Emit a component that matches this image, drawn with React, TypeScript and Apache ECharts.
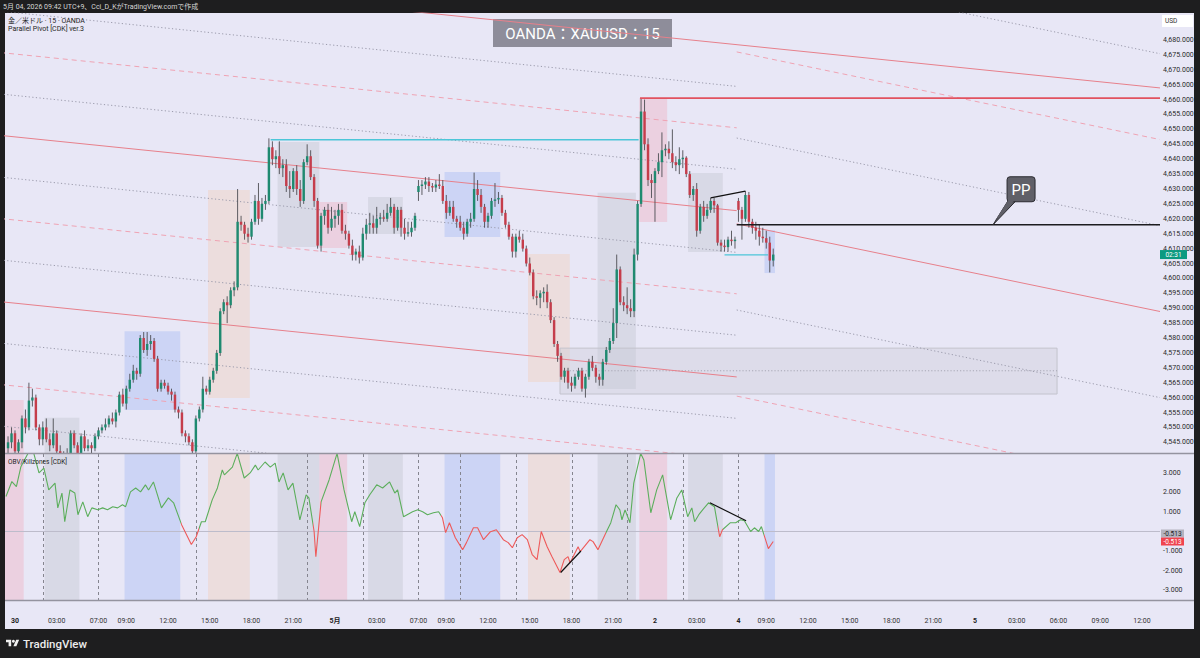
import React, { useEffect, useRef } from "react";
import * as echarts from "echarts";

const FONT = 'Roboto, "Noto Sans CJK JP", "Noto Sans", sans-serif';
const GREEN = "#1f8a70";
const RED = "#c53d4b";
const WICK = "#4d4d52";
const OBV_GREEN = "#5cae5c";
const OBV_RED = "#ee5a5a";

// ---------------- data ----------------
// 15-minute bars, index 0 = 30 Apr 00:00 JST, [open, close, low, high]
const FIRST_BAR = -2;
const candleOHLC: number[][] = [
  [4543, 4545, 4541, 4547], [4545, 4548, 4543, 4550], [4548, 4542, 4540, 4549], [4542, 4545, 4541, 4546],
  [4545, 4553, 4543, 4554], [4553, 4550, 4548, 4556], [4550, 4559, 4549, 4565], [4559, 4560, 4557, 4563],
  [4560, 4550, 4549, 4561], [4550, 4546, 4544, 4551], [4546, 4550, 4544, 4552], [4550, 4546, 4545, 4553],
  [4546, 4544, 4542, 4548], [4544, 4548, 4543, 4553], [4548, 4542, 4541, 4549], [4542, 4539, 4537, 4544],
  [4539, 4540, 4536, 4542], [4540, 4541, 4538, 4543], [4541, 4548, 4540, 4549], [4548, 4544, 4543, 4549],
  [4544, 4541, 4539, 4545], [4541, 4547, 4540, 4548], [4547, 4543, 4542, 4549], [4543, 4544, 4542, 4546],
  [4544, 4543, 4541, 4545], [4543, 4547, 4542, 4548], [4547, 4549, 4546, 4550], [4549, 4550, 4548, 4551],
  [4550, 4551, 4549, 4553], [4551, 4553, 4550, 4554], [4553, 4552, 4551, 4555], [4552, 4555, 4550, 4556],
  [4555, 4561, 4554, 4562], [4561, 4558, 4557, 4563], [4558, 4563, 4556, 4564], [4563, 4566, 4562, 4568],
  [4566, 4569, 4565, 4571], [4569, 4568, 4566, 4570], [4568, 4580, 4567, 4581], [4580, 4576, 4575, 4582],
  [4576, 4578, 4574, 4582], [4578, 4579, 4576, 4581], [4579, 4573, 4572, 4580], [4573, 4563, 4562, 4574],
  [4563, 4565, 4562, 4566], [4565, 4564, 4563, 4566], [4564, 4562, 4561, 4565], [4562, 4561, 4559, 4563],
  [4561, 4556, 4555, 4562], [4556, 4555, 4553, 4557], [4555, 4548, 4547, 4556], [4548, 4547, 4545, 4549],
  [4547, 4545, 4544, 4548], [4545, 4542, 4537, 4546], [4542, 4553, 4541, 4554], [4553, 4556, 4552, 4557],
  [4556, 4563, 4555, 4567], [4563, 4562, 4561, 4564], [4562, 4566, 4561, 4567], [4566, 4569, 4565, 4570],
  [4569, 4575, 4568, 4576], [4575, 4589, 4574, 4590], [4589, 4592, 4588, 4593], [4592, 4591, 4585, 4594],
  [4591, 4596, 4590, 4597], [4596, 4597, 4594, 4599], [4597, 4619, 4596, 4630], [4619, 4618, 4616, 4621],
  [4618, 4615, 4613, 4619], [4615, 4614, 4612, 4617], [4614, 4619, 4613, 4620], [4619, 4626, 4618, 4628],
  [4626, 4620, 4618, 4632], [4620, 4625, 4619, 4627], [4625, 4626, 4623, 4628], [4626, 4644, 4625, 4647],
  [4644, 4640, 4638, 4646], [4640, 4641, 4637, 4643], [4641, 4637, 4635, 4646], [4637, 4638, 4634, 4640],
  [4638, 4631, 4629, 4640], [4631, 4630, 4627, 4636], [4630, 4636, 4629, 4637], [4636, 4630, 4628, 4638],
  [4630, 4626, 4624, 4633], [4626, 4639, 4625, 4640], [4639, 4641, 4638, 4645], [4641, 4634, 4633, 4643],
  [4634, 4626, 4624, 4635], [4626, 4611, 4610, 4627], [4611, 4621, 4609, 4622], [4621, 4623, 4618, 4624],
  [4623, 4617, 4615, 4625], [4617, 4620, 4616, 4624], [4620, 4621, 4617, 4623], [4621, 4623, 4618, 4625],
  [4623, 4616, 4615, 4625], [4616, 4615, 4613, 4618], [4615, 4611, 4610, 4616], [4611, 4608, 4606, 4613],
  [4608, 4609, 4606, 4610], [4609, 4607, 4605, 4611], [4607, 4615, 4606, 4617], [4615, 4618, 4613, 4620],
  [4618, 4618.5, 4615, 4622], [4618.5, 4617, 4615, 4621], [4617, 4620, 4615, 4624], [4620, 4620.5, 4618, 4622],
  [4620.5, 4620, 4619, 4623], [4620, 4622, 4619, 4625], [4622, 4624, 4621, 4627], [4624, 4617, 4615, 4625],
  [4617, 4623, 4616, 4624], [4623, 4617, 4614, 4624], [4617, 4615, 4613, 4620], [4615, 4615.5, 4614, 4619],
  [4615.5, 4617, 4614, 4619], [4617, 4621, 4616, 4622], [4629, 4631, 4626, 4633], [4631, 4631.5, 4628, 4633],
  [4631.5, 4632.5, 4630, 4634], [4632.5, 4631, 4629, 4634], [4631, 4630.5, 4629, 4632], [4630.5, 4631.5, 4629, 4633],
  [4631.5, 4631, 4630, 4635], [4631, 4626, 4625, 4633], [4626, 4622, 4620, 4628], [4622, 4624, 4621, 4626],
  [4624, 4620, 4619, 4626], [4620, 4619, 4617, 4621], [4619, 4617, 4616, 4621], [4617, 4615, 4613, 4619],
  [4615, 4619, 4614, 4620], [4619, 4620, 4617, 4622], [4620, 4630, 4619, 4635.5], [4630, 4628, 4626, 4633],
  [4628, 4624, 4622, 4630], [4624, 4619, 4617, 4625], [4619, 4621, 4617, 4622], [4621, 4626, 4620, 4627],
  [4626, 4626.5, 4624, 4632], [4626.5, 4627, 4625, 4629], [4627, 4622, 4621, 4628], [4622, 4618, 4617, 4623],
  [4618, 4614, 4613, 4619], [4614, 4609, 4607, 4615], [4609, 4614, 4607, 4615], [4614, 4613, 4612, 4616],
  [4613, 4610, 4609, 4615], [4610, 4605, 4604, 4611], [4605, 4602, 4601, 4607], [4602, 4594, 4593, 4603],
  [4594, 4593.5, 4591, 4596], [4593.5, 4595, 4590, 4596], [4595, 4595.5, 4592, 4597], [4595.5, 4592, 4590, 4598],
  [4592, 4586, 4585, 4593], [4586, 4578, 4577, 4587], [4578, 4574, 4572, 4579], [4574, 4567, 4566, 4575],
  [4567, 4569, 4565, 4570], [4569, 4565, 4563, 4570], [4565, 4564, 4562, 4567], [4564, 4567, 4563, 4568],
  [4567, 4569, 4566, 4570], [4569, 4563, 4562, 4570], [4563, 4567, 4560, 4568], [4567, 4572, 4566, 4573],
  [4572, 4570, 4569, 4574], [4570, 4567, 4565, 4571], [4567, 4566, 4564, 4568], [4566, 4572, 4564, 4573],
  [4572, 4576, 4571, 4577], [4576, 4579, 4575, 4580], [4579, 4585, 4578, 4590], [4585, 4603, 4580, 4608],
  [4603, 4592, 4591, 4604], [4592, 4591, 4589, 4594], [4591, 4590, 4588, 4597], [4590, 4589, 4587, 4593],
  [4589, 4608, 4587, 4610], [4608, 4625, 4606, 4626], [4625, 4656, 4624, 4660.5], [4656, 4645, 4643, 4660],
  [4645, 4633, 4631, 4647], [4633, 4632, 4627, 4635], [4632, 4636, 4619, 4637], [4636, 4639, 4635, 4642],
  [4639, 4643, 4634, 4649], [4643, 4643.5, 4641, 4645], [4643.5, 4642, 4640, 4646], [4642, 4639, 4637, 4650],
  [4639, 4638, 4636, 4641], [4638, 4640, 4635, 4644], [4640, 4640.5, 4637, 4643], [4640.5, 4635, 4634, 4641],
  [4635, 4628, 4627, 4636], [4628, 4630, 4626, 4631], [4630, 4616, 4614, 4632], [4616, 4624, 4615, 4625],
  [4624, 4621, 4619, 4626], [4621, 4623, 4620, 4625], [4623, 4626, 4622, 4627], [4626, 4624.5, 4622, 4627],
  [4624.5, 4612, 4611, 4625], [4612, 4611, 4609, 4613], [4611, 4610.5, 4609, 4613], [4610.5, 4613, 4609, 4614],
  [4613, 4612.5, 4611, 4616], [4612.5, 4613, 4610, 4614], [4626, 4623, 4619, 4627], [4623, 4620, 4613, 4624],
  [4620, 4628, 4619, 4629.3], [4628, 4619, 4617, 4629], [4619, 4617, 4615, 4620], [4617, 4616, 4613, 4619],
  [4616, 4614, 4611, 4618], [4614, 4613.5, 4612, 4617], [4613.5, 4612, 4610, 4616], [4612, 4606, 4602, 4614],
  [4606, 4608, 4604, 4610],
];

const timeTickIdx = [0, 12, 24, 32, 44, 56, 68, 80, 92, 104, 116, 124, 136, 148, 160, 172, 184, 196, 208, 216, 228, 240, 252, 264, 276, 288, 300, 312, 324];
const timeTickText = ["30", "03:00", "07:00", "09:00", "12:00", "15:00", "18:00", "21:00", "5月", "03:00", "07:00", "09:00", "12:00", "15:00", "18:00", "21:00", "2", "03:00", "4", "09:00", "12:00", "15:00", "18:00", "21:00", "5", "03:00", "06:00", "09:00", "12:00"];
const dayLabels = ["30", "5月", "2", "4", "5"];
const priceTicks = [4545, 4550, 4555, 4560, 4565, 4570, 4575, 4580, 4585, 4590, 4595, 4600, 4605, 4610, 4615, 4620, 4625, 4630, 4635, 4640, 4645, 4650, 4655, 4660, 4665, 4670, 4675, 4680];
const obvTicks = [-3, -2, -1, 1, 2, 3];

// killzone boxes: bar range and price range
const zoneStart = [-3, 9, 32, 56, 76, 88, 102, 124, 148, 168, 180, 194, 216];
const zoneEnd = [2, 18, 47, 67, 87, 95, 111, 139, 159, 178, 187, 203, 218];
const zoneHigh = [4559.2, 4553.2, 4582.3, 4629.7, 4645.8, 4625.6, 4627.3, 4635.7, 4608.2, 4628.7, 4660.5, 4635.4, 4616.2];
const zoneLow = [4530, 4530, 4555.8, 4559.9, 4610.5, 4610.2, 4614.9, 4613.9, 4565.2, 4562.9, 4618.9, 4608.9, 4601.8];
const zoneKind = ["pink", "gray", "blue", "beige", "gray", "pink", "gray", "blue", "beige", "gray", "pink", "gray", "blue"];
const sessionLines = [8, 24, 52, 84, 100, 116, 128, 144, 160, 176, 192, 208];

// parallel pivot levels
const oldPivotStart = -4.3;
const oldPivotEnd = 207.5;
const oldPivotSlope = -0.1193;
const oldLevels = [4703.7, 4689.7, 4675.8, 4661.9, 4648.0, 4634.0, 4620.1, 4606.2, 4592.2, 4578.3, 4564.4, 4550.5];
const oldStyles = ["solid", "dotted", "dashed", "dotted", "solid", "dotted", "dashed", "dotted", "solid", "dotted", "dashed", "dotted"];
const newPivotStart = 207.5;
const newPivotSlope = -0.2416;
const newLevels = [4704.8, 4676.0, 4647.1, 4618.3, 4589.4, 4560.5];
const newStyles = ["dotted", "dashed", "dotted", "solid", "dotted", "dashed"];

const ppValue = 4618;
const ppStart = 207.5;
const ppLabelIdx = 281.2;
const prevHigh = 4646.5;
const prevHighIdx = [73.5, 179.3];
const dayHigh = 4660.5;
const dayHighStart = 179.7;
const sessionLow = 4607.9;
const sessionLowIdx = [204, 216.5];
const rangeBoxIdx = [156.7, 299.6];
const rangeBoxPrice = [4561.2, 4576.6, 4569.0];
const priceTrendIdx = [200, 210];
const priceTrendVal = [4627, 4629.3];

// OBV indicator
const obvPts: number[][] = [
  [-2.6, 1.79], [-0.9, 2.56], [0.4, 2.3], [1.7, 3.32], [4.0, 4.09], [5.4, 4.0], [6.9, 3.0], [8.3, 3.25], [9.7, 2.13],
  [11.5, 2.48], [12.3, 1.21], [13.5, 1.97], [14.3, 0.5], [15.8, 2.13], [17.2, 1.97], [18.1, 0.86], [19.5, 1.52],
  [20.9, 0.76], [22.1, 1.21], [23.8, 1.11], [25.2, 1.21], [26.6, 1.11], [28.1, 1.27], [29.5, 1.21], [30.9, 1.37],
  [31.8, 1.27], [33.2, 2.03], [34.7, 2.23], [36.1, 2.03], [37.5, 2.39], [38.4, 2.13], [39.8, 2.54], [42.1, 1.21],
  [44.1, 1.72], [45.6, 1.47], [47.9, 0.35], [50.7, -0.67], [52.1, -0.27], [53.6, 0.5], [54.7, 0.5], [56.7, 1.62],
  [58.2, 2.23], [59.6, 3.15], [60.2, 2.9], [62.5, 3.3], [63.9, 4.0], [65.9, 2.74], [67.6, 3.0], [69.1, 3.4],
  [69.9, 3.15], [71.9, 3.56], [73.4, 3.3], [74.8, 3.5], [75.9, 2.54], [77.1, 3.0], [78.5, 2.13], [79.9, 2.48],
  [81.9, 0.6], [83.7, 1.88], [84.5, 1.72], [86.0, 0.0], [86.5, -1.29], [88.0, 1.52], [90.3, 2.64], [92.6, 4.0],
  [94.6, 2.13], [96.8, 0.5], [97.7, 1.01], [99.1, 0.25], [100.6, 1.47], [102.0, 1.88], [104.0, 2.39], [105.7, 2.23],
  [107.7, 2.54], [109.2, 1.97], [110.0, 2.13], [111.7, 0.76], [114.3, 1.01], [115.8, 1.11], [117.2, 1.01],
  [118.6, 0.86], [120.3, 0.96], [121.8, 1.01], [122.9, 0.7], [123.8, -0.06], [124.9, 0.45], [126.6, -0.32],
  [128.7, -0.93], [129.8, -0.57], [131.8, 0.19], [133.0, 0.19], [134.7, -0.42], [136.7, -0.01], [138.4, 0.09],
  [140.4, -0.42], [141.8, -0.57], [143.0, -0.83], [144.4, -0.32], [145.8, -0.16], [147.3, -0.42], [148.7, -1.18],
  [150.1, -1.44], [151.3, 0.0], [153.0, -0.78], [154.4, -1.29], [156.7, -2.1], [157.9, -1.44], [159.0, -1.29],
  [159.6, -1.6], [161.9, -0.78], [162.5, -1.03], [165.3, -0.42], [166.2, -0.52], [167.6, -0.93], [169.9, -0.06],
  [171.3, 0.45], [172.8, 1.37], [173.9, 1.11], [174.5, 0.6], [175.4, 1.11], [176.8, 0.45], [177.9, 2.48],
  [179.9, 4.0], [180.8, 3.66], [182.8, 0.96], [184.5, 2.13], [186.2, 2.9], [188.5, 0.6], [190.3, 1.72],
  [191.7, 2.13], [193.4, 0.76], [194.6, 1.21], [195.4, 0.5], [196.6, 0.86], [197.7, 1.11], [199.4, 1.47],
  [201.1, 1.27], [202.6, -0.27], [203.4, 0.09], [205.7, 0.45], [207.2, 0.45], [208.6, 0.6], [209.7, 0.55],
  [211.5, 0.0], [212.6, 0.19], [213.8, 0.0], [214.6, 0.25], [216.6, -0.88], [218.0, -0.513],
];
const obvRedFrom = [47.6, 85.8, 122.6, 202.0, 215.4];
const obvRedTo = [52.8, 88.0, 169.9, 203.6, 219.0];
const obvTrend1Idx = [156.9, 162.7];
const obvTrend1Val = [-2.1, -1.0];
const obvTrend2Idx = [199.8, 210.2];
const obvTrend2Val = [1.47, 0.55];
const lastObv = -0.513;
const countdownText = "02:31";

// ---------------- layout ----------------
const X_MIN = -2.875;
const X_MAX = 329.2;
const P_MIN = 4541.41;
const P_MAX = 4689.06;
const O_MIN = -3.51;
const O_MAX = 3.97;

const zoneFill: Record<string, string> = {
  pink: "rgba(242,160,178,0.32)",
  gray: "rgba(185,186,196,0.32)",
  blue: "rgba(150,176,242,0.34)",
  beige: "rgba(245,200,168,0.32)",
};

const lineStyles: Record<string, any> = {
  solid: { color: "#e7808b", width: 1, type: "solid" },
  dashed: { color: "#efa3b3", width: 1, type: [5, 4] },
  dotted: { color: "#9a9aab", width: 1, type: [1.2, 2.4] },
};

function seg(axis: number, data: number[][], style: any, z = 3) {
  return {
    type: "line",
    xAxisIndex: axis,
    yAxisIndex: axis,
    data,
    symbol: "none",
    silent: true,
    z,
    lineStyle: style,
  };
}

function clipOf(params: any) {
  const cs = params.coordSys;
  return { type: "rect", shape: { x: cs.x, y: cs.y, width: cs.width, height: cs.height } };
}

function buildOption() {
  const series: any[] = [];

  // main-pane killzone boxes
  series.push({
    type: "custom",
    xAxisIndex: 0,
    yAxisIndex: 0,
    silent: true,
    z: 1,
    data: zoneStart.map((s, k) => [s, zoneEnd[k], zoneLow[k], zoneHigh[k], k]),
    encode: { x: [0, 1], y: [2, 3] },
    renderItem: (params: any, api: any) => {
      const k = api.value(4);
      const p1 = api.coord([api.value(0) - 0.5, api.value(3)]);
      const p2 = api.coord([api.value(1) + 0.5, api.value(2)]);
      return {
        type: "rect",
        shape: { x: p1[0], y: p1[1], width: p2[0] - p1[0], height: p2[1] - p1[1] },
        style: { fill: zoneFill[zoneKind[k]] },
        clipPath: clipOf(params),
      };
    },
  });

  // indicator-pane bands
  series.push({
    type: "custom",
    xAxisIndex: 1,
    yAxisIndex: 1,
    silent: true,
    z: 1,
    data: zoneStart.map((s, k) => [s, zoneEnd[k], k]),
    encode: { x: [0, 1] },
    renderItem: (params: any, api: any) => {
      const cs = params.coordSys;
      const k = api.value(2);
      const x1 = api.coord([api.value(0) - 0.5, 0])[0];
      const x2 = api.coord([api.value(1) + 0.5, 0])[0];
      return {
        type: "rect",
        shape: { x: x1, y: cs.y, width: x2 - x1, height: cs.height },
        style: { fill: zoneFill[zoneKind[k]] },
        clipPath: clipOf(params),
      };
    },
  });

  // session dashed verticals in indicator
  series.push({
    type: "custom",
    xAxisIndex: 1,
    yAxisIndex: 1,
    silent: true,
    z: 2,
    data: sessionLines.map((v) => [v]),
    encode: { x: 0 },
    renderItem: (params: any, api: any) => {
      const cs = params.coordSys;
      const x = Math.round(api.coord([api.value(0), 0])[0]) + 0.5;
      return {
        type: "line",
        shape: { x1: x, y1: cs.y, x2: x, y2: cs.y + cs.height },
        style: { stroke: "#85858f", lineWidth: 1, lineDash: [3, 3] },
      };
    },
  });

  // zero line of indicator
  series.push(seg(1, [[X_MIN, 0], [X_MAX, 0]], { color: "#bdbccb", width: 1 }, 2));

  // parallel pivot lines, previous session
  oldLevels.forEach((lv, k) => {
    const end = k === 0 ? X_MAX : oldPivotEnd;
    series.push(
      seg(0, [[oldPivotStart, lv], [end, lv + oldPivotSlope * (end - oldPivotStart)]], lineStyles[oldStyles[k]], 2)
    );
  });
  // current session
  newLevels.forEach((lv, k) => {
    series.push(
      seg(0, [[newPivotStart, lv], [X_MAX, lv + newPivotSlope * (X_MAX - newPivotStart)]], lineStyles[newStyles[k]], 2)
    );
  });

  // range box
  series.push({
    type: "custom",
    xAxisIndex: 0,
    yAxisIndex: 0,
    silent: true,
    z: 2,
    data: [[rangeBoxIdx[0], rangeBoxIdx[1], rangeBoxPrice[0], rangeBoxPrice[1], rangeBoxPrice[2]]],
    encode: { x: [0, 1], y: [2, 3] },
    renderItem: (params: any, api: any) => {
      const p1 = api.coord([api.value(0), api.value(3)]);
      const p2 = api.coord([api.value(1), api.value(2)]);
      const pm = api.coord([api.value(0), api.value(4)]);
      return {
        type: "group",
        children: [
          {
            type: "rect",
            shape: { x: p1[0], y: p1[1], width: p2[0] - p1[0], height: p2[1] - p1[1] },
            style: { fill: "rgba(200,200,212,0.35)", stroke: "#c3c3cd", lineWidth: 1 },
          },
          {
            type: "line",
            shape: { x1: p1[0], y1: pm[1], x2: p2[0], y2: pm[1] },
            style: { stroke: "#a7a7b4", lineWidth: 1, lineDash: [1.2, 2] },
          },
        ],
      };
    },
  });

  // candles
  series.push({
    type: "custom",
    xAxisIndex: 0,
    yAxisIndex: 0,
    silent: true,
    z: 4,
    data: candleOHLC.map((d, k) => [k + FIRST_BAR, d[0], d[1], d[2], d[3]]),
    encode: { x: 0, y: [1, 2, 3, 4] },
    renderItem: (params: any, api: any) => {
      const i = api.value(0);
      const o = api.value(1);
      const c = api.value(2);
      const pL = api.coord([i, api.value(3)]);
      const pH = api.coord([i, api.value(4)]);
      const pO = api.coord([i, o]);
      const pC = api.coord([i, c]);
      const bw = Math.max(api.size([1, 0])[0] * 0.7, 1.5);
      const top = Math.min(pO[1], pC[1]);
      const bh = Math.max(Math.abs(pO[1] - pC[1]), 1);
      const x = pO[0];
      return {
        type: "group",
        clipPath: clipOf(params),
        children: [
          { type: "line", shape: { x1: x, y1: pH[1], x2: x, y2: pL[1] }, style: { stroke: WICK, lineWidth: 0.9 } },
          {
            type: "rect",
            shape: { x: x - bw / 2, y: top, width: bw, height: bh },
            style: { fill: c >= o ? GREEN : RED },
          },
        ],
      };
    },
  });

  // annotation lines
  series.push(seg(0, [[prevHighIdx[0], prevHigh], [prevHighIdx[1], prevHigh]], { color: "#4cc6d8", width: 1.5 }, 5));
  series.push(seg(0, [[dayHighStart, dayHigh], [X_MAX, dayHigh]], { color: "#e2525f", width: 1.6 }, 5));
  series.push(seg(0, [[sessionLowIdx[0], sessionLow], [sessionLowIdx[1], sessionLow]], { color: "#4cc6d8", width: 1.3 }, 5));
  series.push(seg(0, [[ppStart, ppValue], [X_MAX, ppValue]], { color: "#1c1c1f", width: 1.6 }, 5));
  series.push(
    seg(0, [[priceTrendIdx[0], priceTrendVal[0]], [priceTrendIdx[1], priceTrendVal[1]]], { color: "#111", width: 1.3 }, 6)
  );

  // PP callout
  series.push({
    type: "custom",
    xAxisIndex: 0,
    yAxisIndex: 0,
    silent: true,
    z: 7,
    data: [[ppLabelIdx, ppValue]],
    encode: { x: 0, y: 1 },
    renderItem: (params: any, api: any) => {
      const p = api.coord([api.value(0), api.value(1)]);
      const bx = p[0] + 14;
      const by = p[1] - 48;
      return {
        type: "group",
        children: [
          {
            type: "polygon",
            shape: { points: [[p[0], p[1]], [p[0] + 15, p[1] - 24], [p[0] + 23, p[1] - 24]] },
            style: { fill: "#606068", stroke: "#2b2b30", lineWidth: 1 },
          },
          {
            type: "rect",
            shape: { x: bx, y: by, width: 28, height: 25, r: 3 },
            style: { fill: "#606068", stroke: "#2b2b30", lineWidth: 1 },
          },
          {
            type: "polygon",
            shape: { points: [[p[0] + 2, p[1] - 4], [p[0] + 15.5, p[1] - 25], [p[0] + 22, p[1] - 25]] },
            style: { fill: "#606068" },
          },
          {
            type: "text",
            style: {
              text: "PP",
              x: bx + 14,
              y: by + 13,
              fill: "#ffffff",
              fontSize: 15,
              fontFamily: FONT,
              textAlign: "center",
              textVerticalAlign: "middle",
            },
          },
        ],
      };
    },
  });

  // current-bar countdown label on the price scale
  const lastBar = candleOHLC.length - 1 + FIRST_BAR;
  const lastClose = candleOHLC[candleOHLC.length - 1][1];
  series.push({
    type: "custom",
    xAxisIndex: 0,
    yAxisIndex: 0,
    silent: true,
    z: 8,
    data: [[lastBar, lastClose]],
    encode: { x: 0, y: 1 },
    renderItem: (params: any, api: any) => {
      const cs = params.coordSys;
      const p = api.coord([api.value(0), api.value(1)]);
      const x0 = cs.x + cs.width;
      return {
        type: "group",
        children: [
          { type: "rect", shape: { x: x0, y: p[1] - 4.5, width: 27, height: 9 }, style: { fill: "#0b9a80" } },
          {
            type: "text",
            style: {
              text: countdownText,
              x: x0 + 13.5,
              y: p[1],
              fill: "#fff",
              fontSize: 6.5,
              fontFamily: FONT,
              textAlign: "center",
              textVerticalAlign: "middle",
            },
          },
        ],
      };
    },
  });

  // OBV line
  const obvSeriesIndex = series.length;
  series.push({
    type: "line",
    xAxisIndex: 1,
    yAxisIndex: 1,
    data: obvPts,
    symbol: "none",
    silent: true,
    z: 4,
    lineStyle: { width: 1.1 },
  });
  series.push(
    seg(1, [[obvTrend1Idx[0], obvTrend1Val[0]], [obvTrend1Idx[1], obvTrend1Val[1]]], { color: "#111", width: 1.2 }, 5)
  );
  series.push(
    seg(1, [[obvTrend2Idx[0], obvTrend2Val[0]], [obvTrend2Idx[1], obvTrend2Val[1]]], { color: "#111", width: 1.2 }, 5)
  );

  // OBV value labels on scale
  series.push({
    type: "custom",
    xAxisIndex: 1,
    yAxisIndex: 1,
    silent: true,
    z: 8,
    data: [[lastBar, lastObv]],
    encode: { x: 0, y: 1 },
    renderItem: (params: any, api: any) => {
      const cs = params.coordSys;
      const p = api.coord([api.value(0), api.value(1)]);
      const x0 = cs.x + cs.width + 1;
      const txt = api.value(1).toFixed(3);
      const mk = (y: number, fill: string, color: string) => [
        { type: "rect", shape: { x: x0, y: y - 4, width: 23, height: 8 }, style: { fill } },
        {
          type: "text",
          style: {
            text: txt,
            x: x0 + 11.5,
            y,
            fill: color,
            fontSize: 6.5,
            fontFamily: FONT,
            textAlign: "center",
            textVerticalAlign: "middle",
          },
        },
      ];
      return {
        type: "group",
        children: [...mk(p[1] - 8, "#b4b3bf", "#222"), ...mk(p[1], "#f0444f", "#fff")],
      };
    },
  });

  const labelMap: Record<number, string> = {};
  timeTickIdx.forEach((v, k) => (labelMap[v] = timeTickText[k]));

  const axisCommon = {
    axisLine: { show: false },
    axisTick: { show: false },
    splitLine: { show: false },
  };

  return {
    animation: false,
    textStyle: { fontFamily: FONT },
    grid: [
      { left: 5, top: 13, width: 1155, height: 440 },
      { left: 5, top: 454, width: 1155, height: 146 },
    ],
    xAxis: [
      { type: "value", gridIndex: 0, min: X_MIN, max: X_MAX, show: false },
      {
        type: "value",
        gridIndex: 1,
        min: X_MIN,
        max: X_MAX,
        ...axisCommon,
        axisLabel: {
          customValues: timeTickIdx,
          margin: 17,
          fontSize: 7,
          color: "#333",
          fontFamily: FONT,
          formatter: (v: number) => {
            const t = labelMap[Math.round(v)] || "";
            return dayLabels.indexOf(t) >= 0 ? "{b|" + t + "}" : t;
          },
          rich: { b: { fontSize: 7, fontWeight: "bold", color: "#222", fontFamily: FONT } },
        },
      },
    ],
    yAxis: [
      {
        type: "value",
        gridIndex: 0,
        position: "right",
        min: P_MIN,
        max: P_MAX,
        ...axisCommon,
        axisLabel: {
          customValues: priceTicks,
          margin: 3,
          fontSize: 7,
          color: "#2a2a2a",
          fontFamily: FONT,
          formatter: (v: number) =>
            v.toLocaleString("en-US", { minimumFractionDigits: 3, maximumFractionDigits: 3 }),
        },
      },
      {
        type: "value",
        gridIndex: 1,
        position: "right",
        min: O_MIN,
        max: O_MAX,
        ...axisCommon,
        axisLabel: {
          customValues: obvTicks,
          margin: 3,
          fontSize: 7,
          color: "#2a2a2a",
          fontFamily: FONT,
          formatter: (v: number) => v.toFixed(3),
        },
      },
    ],
    visualMap: [
      {
        type: "piecewise",
        show: false,
        dimension: 0,
        seriesIndex: obvSeriesIndex,
        pieces: obvRedFrom.map((a, k) => ({ gte: a, lt: obvRedTo[k], color: OBV_RED })),
        outOfRange: { color: OBV_GREEN },
      },
    ],
    graphic: [
      {
        type: "text",
        z: 100,
        style: {
          text: "5月 04, 2026 09:42 UTC+9、Cci_D_KがTradingView.comで作成",
          x: 3,
          y: 6.5,
          fill: "#d6d6d6",
          fontSize: 7,
          fontFamily: FONT,
          textVerticalAlign: "middle",
        },
      },
      {
        type: "text",
        z: 100,
        style: {
          text: "金／米ドル · 15 · OANDA",
          x: 8,
          y: 20.5,
          fill: "#1f1f24",
          fontSize: 7,
          fontFamily: FONT,
          textVerticalAlign: "middle",
        },
      },
      {
        type: "text",
        z: 100,
        style: {
          text: "Parallel Pivot [CDK] ver.3",
          x: 8,
          y: 29,
          fill: "#1f1f24",
          fontSize: 7,
          fontFamily: FONT,
          textVerticalAlign: "middle",
        },
      },
      {
        type: "text",
        z: 100,
        style: {
          text: "OBV/Killzones [CDK]",
          x: 8,
          y: 462,
          fill: "#1f1f24",
          fontSize: 6.5,
          fontFamily: FONT,
          textVerticalAlign: "middle",
        },
      },
      {
        type: "group",
        z: 100,
        x: 493,
        y: 19,
        children: [
          { type: "rect", shape: { x: 0, y: 0, width: 179, height: 28 }, style: { fill: "#8e8d9a" } },
          {
            type: "text",
            style: {
              text: "OANDA：XAUUSD：15",
              x: 89.5,
              y: 14.5,
              fill: "#ffffff",
              fontSize: 15,
              fontFamily: FONT,
              textAlign: "center",
              textVerticalAlign: "middle",
            },
          },
        ],
      },
      {
        type: "group",
        z: 100,
        x: 1162,
        y: 15,
        children: [
          { type: "rect", shape: { x: 0, y: 0, width: 31, height: 12 }, style: { fill: "#ffffff" } },
          {
            type: "text",
            style: {
              text: "USD",
              x: 3,
              y: 6,
              fill: "#333",
              fontSize: 6.5,
              fontFamily: FONT,
              textVerticalAlign: "middle",
            },
          },
        ],
      },
      {
        type: "line",
        z: 100,
        shape: { x1: 5, y1: 453.5, x2: 1194, y2: 453.5 },
        style: { stroke: "#94939f", lineWidth: 1.5 },
      },
      {
        type: "line",
        z: 100,
        shape: { x1: 5, y1: 600.5, x2: 1194, y2: 600.5 },
        style: { stroke: "#94939f", lineWidth: 1.5 },
      },
      {
        type: "tvlogo",
        z: 100,
        x: 6,
        y: 638.2,
        scaleX: 0.37,
        scaleY: 0.37,
        style: { fill: "#f0f0f0" },
      },
      {
        type: "circle",
        z: 100,
        shape: { cx: 6 + 20 * 0.37, cy: 638.2 + 8 * 0.37, r: 4 * 0.37 },
        style: { fill: "#f0f0f0" },
      },
      {
        type: "text",
        z: 100,
        style: {
          text: "TradingView",
          x: 23,
          y: 644,
          fill: "#ececec",
          fontSize: 11.5,
          fontWeight: 500,
          fontFamily: FONT,
          textVerticalAlign: "middle",
        },
      },
    ],
    series,
  };
}

let logoRegistered = false;

export default function App() {
  const ref = useRef<HTMLDivElement>(null);
  useEffect(() => {
    if (!ref.current) return;
    if (!logoRegistered) {
      echarts.graphic.registerShape(
        "tvlogo",
        echarts.graphic.extendPath("M14 22H7V11H0V4h14v18zM28 22h-8l7.5-18h8L28 22z", {})
      );
      logoRegistered = true;
    }
    const chart = echarts.init(ref.current, undefined, { renderer: "svg", width: 1200, height: 658 });
    chart.setOption(buildOption() as any);
    return () => chart.dispose();
  }, []);

  return (
    <div style={{ position: "fixed", left: 0, top: 0, width: 1200, height: 658, background: "#1e1e1f", overflow: "hidden" }}>
      <div style={{ position: "absolute", left: 5, top: 13, width: 1189, height: 616, background: "#e8e7f6" }} />
      <div ref={ref} style={{ position: "absolute", left: 0, top: 0, width: 1200, height: 658 }} />
    </div>
  );
}
